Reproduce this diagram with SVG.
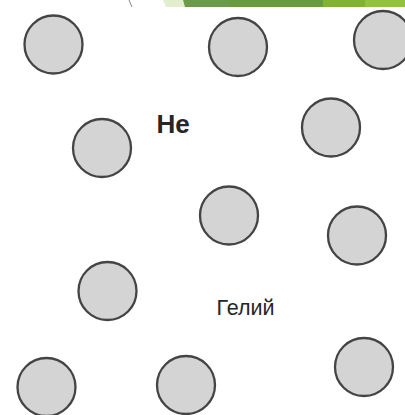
<svg xmlns="http://www.w3.org/2000/svg" width="405" height="415" viewBox="0 0 405 415">
<style>
.atom{fill:#d4d4d4;stroke:#444444;stroke-width:2.3}
.lbl{font-family:"Liberation Sans",Arial,sans-serif;fill:#262626}
</style>
<rect width="405" height="415" fill="#ffffff"/>
<g id="decor">
<line x1="129" y1="0" x2="132" y2="7" stroke="#8a8a8a" stroke-width="1"/>
<polygon points="163,0 183,0 185,7 166,7" fill="#e2eecd"/>
<polygon points="183,0 230,0 230,7 185,7" fill="#6a9a4b"/>
<rect x="230" y="0" width="93" height="7" fill="#679b3e"/>
<rect x="323" y="0" width="42" height="7" fill="#82b330"/>
<rect x="365" y="0" width="40" height="7" fill="#93c23d"/>
</g>
<g id="atom1"><circle class="atom" cx="53.5" cy="44.5" r="29"/></g>
<g id="atom2"><circle class="atom" cx="238" cy="47" r="29"/></g>
<g id="atom3"><circle class="atom" cx="383" cy="40" r="29"/></g>
<g id="atom4"><circle class="atom" cx="102" cy="148" r="29"/></g>
<g id="atom5"><circle class="atom" cx="331" cy="127.5" r="29"/></g>
<g id="atom6"><circle class="atom" cx="229" cy="215.5" r="29"/></g>
<g id="atom7"><circle class="atom" cx="357" cy="235.5" r="29"/></g>
<g id="atom8"><circle class="atom" cx="107.5" cy="291" r="29"/></g>
<g id="atom9"><circle class="atom" cx="364" cy="367" r="29"/></g>
<g id="atom10"><circle class="atom" cx="46.5" cy="387" r="29"/></g>
<g id="atom11"><circle class="atom" cx="186" cy="385" r="29"/></g>
<g id="connectors"></g>
<g id="label-he"><text class="lbl" x="156.5" y="132.5" font-size="26" font-weight="bold">He</text></g>
<g id="label-gelii"><text class="lbl" x="216.5" y="314.5" font-size="21.5" fill="#333">Гелий</text></g>
</svg>
